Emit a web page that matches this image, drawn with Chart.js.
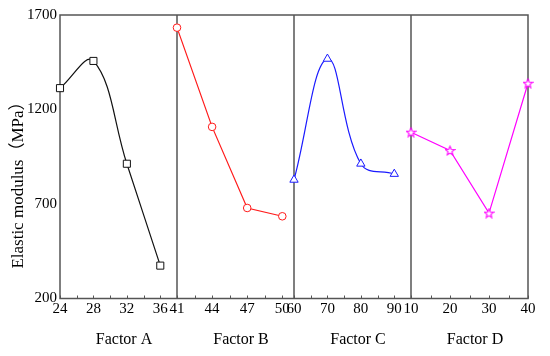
<!DOCTYPE html>
<html>
<head>
<meta charset="utf-8">
<script src="https://cdn.jsdelivr.net/npm/chart.js@4/dist/chart.umd.min.js"></script>
<style>
  html, body { margin: 0; padding: 0; background: #ffffff; }
  #wrap { width: 550px; height: 356px; position: relative; }
</style>
</head>
<body>
<div id="wrap"><canvas id="c"></canvas></div>
<script>
// ---- data ----
const factorA = [24, 28, 32, 36];
const valuesA = [1313, 1457, 913, 374];
const factorB = [41, 44, 47, 50];
const valuesB = [1633, 1108, 679, 635];
const factorC = [60, 70, 80, 90];
const valuesC = [828, 1468, 913, 859];
const factorD = [10, 20, 30, 40];
const valuesD = [1080, 983, 652, 1339];

const ticksA = [24, 28, 32, 36];
const ticksB = [41, 44, 47, 50];
const ticksC = [60, 70, 80, 90];
const ticksD = [10, 20, 30, 40];
const minorA = [26, 30, 34];
const minorB = [42.5, 45.5, 48.5];
const minorC = [65, 75, 85];
const minorD = [15, 25, 35];
const yTicks = [200, 700, 1200, 1700];

const panelTitles = ['Factor A', 'Factor B', 'Factor C', 'Factor D'];
const yTitle = 'Elastic modulus\uFF08MPa\uFF09';

const FONT = '"Liberation Serif", "Noto Sans CJK SC", serif';

function pts(xs, ys) { return xs.map((x, i) => ({ x: x, y: ys[i] })); }

function starCanvas(size, color) {
  const c = document.createElement('canvas');
  c.width = size; c.height = size;
  const g = c.getContext('2d');
  const cx = size / 2, cy = size / 2 + 0.5;
  const ro = size / 2 - 0.8, ri = ro * 0.45;
  g.beginPath();
  for (let i = 0; i < 10; i++) {
    const r = i % 2 === 0 ? ro : ri;
    const a = -Math.PI / 2 + i * Math.PI / 5;
    const px = cx + r * Math.cos(a), py = cy + r * Math.sin(a);
    if (i === 0) g.moveTo(px, py); else g.lineTo(px, py);
  }
  g.closePath();
  g.fillStyle = '#ffffff';
  g.fill();
  g.strokeStyle = color;
  g.lineWidth = 1.1;
  g.stroke();
  return c;
}
const starImg = starCanvas(11, '#ff00ff');

const tickFont = { family: FONT, size: 15 };

function xScale(min, max, tickArr) {
  return {
    type: 'linear',
    position: 'bottom',
    stack: 'x',
    stackWeight: 1,
    min: min,
    max: max,
    grid: { display: false, drawTicks: false },
    border: { display: false },
    afterBuildTicks: (s) => { s.ticks = tickArr.map(v => ({ value: v })); },
    afterFit: (s) => { s.height = 57.5; },
    ticks: {
      autoSkip: false, maxRotation: 0, minRotation: 0, padding: 2,
      color: '#000000',
      font: tickFont,
      callback: (v) => String(v)
    }
  };
}

const framePlugin = {
  id: 'frame',
  beforeDatasetsDraw(chart) {
    const ctx = chart.ctx;
    const a = chart.chartArea;
    ctx.save();
    ctx.strokeStyle = '#555555';
    ctx.lineWidth = 1.5;
    ctx.strokeRect(a.left, a.top, a.right - a.left, a.bottom - a.top);
    const ids = ['xA', 'xB', 'xC', 'xD'];
    const minors = [minorA, minorB, minorC, minorD];
    const majors = [ticksA, ticksB, ticksC, ticksD];
    ids.forEach((id, k) => {
      const s = chart.scales[id];
      if (k > 0) {
        ctx.lineWidth = 1.5;
        ctx.beginPath();
        ctx.moveTo(s.left, a.top);
        ctx.lineTo(s.left, a.bottom);
        ctx.stroke();
      }
      ctx.lineWidth = 1;
      ctx.beginPath();
      majors[k].concat(minors[k]).forEach(v => {
        const px = Math.round(s.getPixelForValue(v)) + 0.5;
        ctx.moveTo(px, a.bottom);
        ctx.lineTo(px, a.bottom - 3);
      });
      ctx.stroke();
    });
    ctx.restore();
  },
  afterDraw(chart) {
    const ctx = chart.ctx;
    ctx.save();
    ctx.fillStyle = '#000000';
    ctx.font = '16px ' + FONT;
    ctx.textAlign = 'center';
    ctx.textBaseline = 'middle';
    ['xA', 'xB', 'xC', 'xD'].forEach((id, k) => {
      const s = chart.scales[id];
      ctx.fillText(panelTitles[k], (s.left + s.right) / 2 + 5.5, 340);
    });
    ctx.font = '17px ' + FONT;
    ctx.translate(18.5, 181);
    ctx.rotate(-Math.PI / 2);
    ctx.fillText(yTitle, 0, 0);
    ctx.restore();
  }
};

const common = { showLine: true, clip: false, pointBorderWidth: 1, pointBackgroundColor: '#ffffff', borderWidth: 1.2 };

new Chart(document.getElementById('c'), {
  type: 'scatter',
  data: {
    datasets: [
      Object.assign({}, common, {
        label: 'Factor A', data: pts(factorA, valuesA), xAxisID: 'xA', yAxisID: 'y',
        borderColor: '#111111', pointBorderColor: '#111111', pointStyle: 'rect', pointRadius: 5, tension: 0.4
      }),
      Object.assign({}, common, {
        label: 'Factor B', data: pts(factorB, valuesB), xAxisID: 'xB', yAxisID: 'y',
        borderColor: '#ff1a1a', pointBorderColor: '#ff1a1a', pointStyle: 'circle', pointRadius: 3.8, tension: 0
      }),
      Object.assign({}, common, {
        label: 'Factor C', data: pts(factorC, valuesC), xAxisID: 'xC', yAxisID: 'y',
        borderColor: '#1a1aff', pointBorderColor: '#1a1aff', pointStyle: 'triangle', pointRadius: 4.8, tension: 0.4
      }),
      Object.assign({}, common, {
        label: 'Factor D', data: pts(factorD, valuesD), xAxisID: 'xD', yAxisID: 'y',
        borderColor: '#ff00ff', pointBorderColor: '#ff00ff', pointStyle: starImg, pointRadius: 5, tension: 0
      })
    ]
  },
  options: {
    responsive: true,
    maintainAspectRatio: false,
    animation: false,
    layout: { padding: { top: 15, right: 22, bottom: 0, left: 0 } },
    plugins: { legend: { display: false }, tooltip: { enabled: false } },
    scales: {
      xA: xScale(24, 38, ticksA),
      xB: xScale(41, 51, ticksB),
      xC: xScale(60, 95, ticksC),
      xD: xScale(10, 40, ticksD),
      y: {
        type: 'linear',
        position: 'left',
        min: 200, max: 1700,
        grid: { display: false, drawTicks: false },
        border: { display: false },
        afterBuildTicks: (s) => { s.ticks = yTicks.map(v => ({ value: v })); },
        afterFit: (s) => { s.width = 60; },
        ticks: { padding: 3, color: '#000000', font: tickFont, callback: (v) => String(v) }
      }
    }
  },
  plugins: [framePlugin]
});
</script>
</body>
</html>
